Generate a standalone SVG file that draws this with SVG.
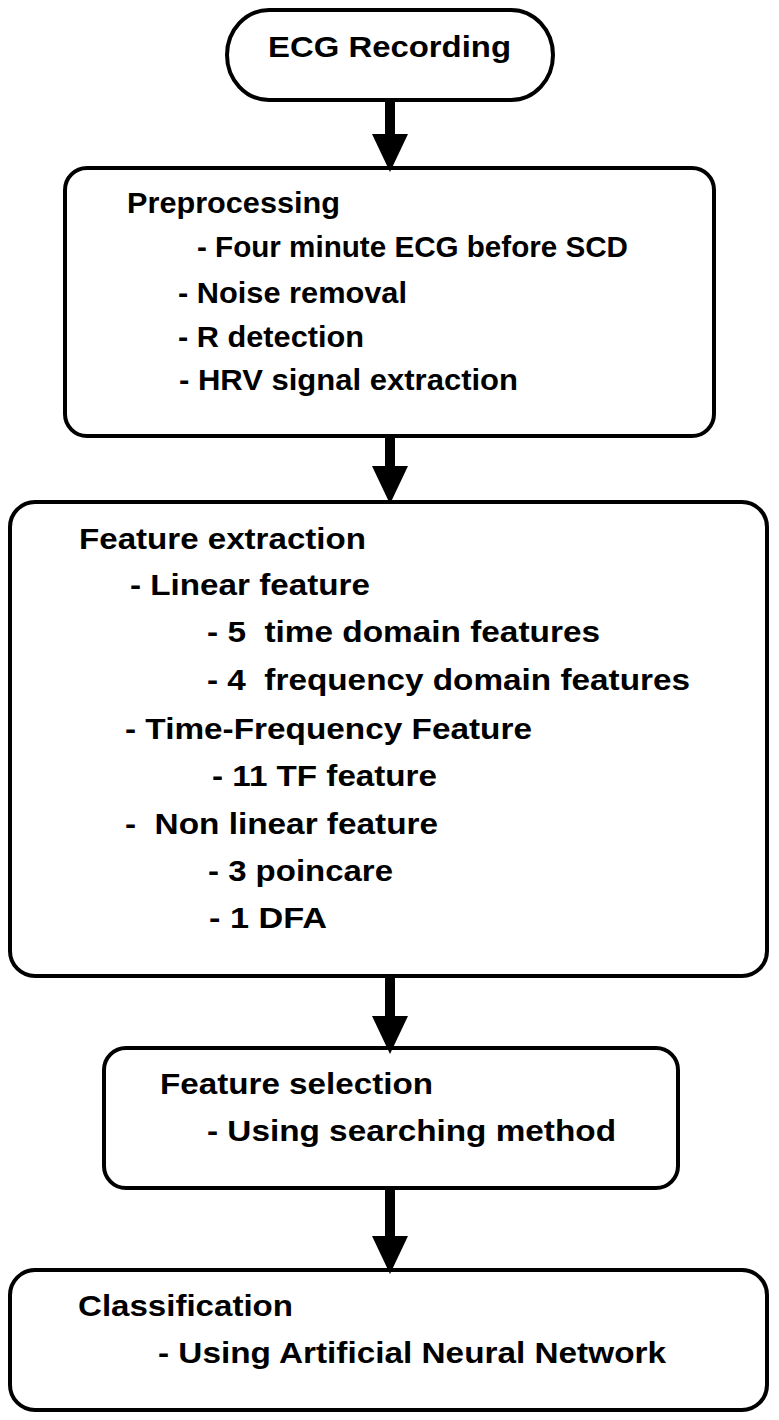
<svg xmlns="http://www.w3.org/2000/svg" width="779" height="1420" viewBox="0 0 779 1420">
<style>
.box{fill:#fff;stroke:#000;stroke-width:4}
.t{font-family:"Liberation Sans",Arial,sans-serif;font-weight:bold;font-size:30px;fill:#000;white-space:pre}
.c{stroke:#000;stroke-width:10;fill:none}
</style>
<defs>
<marker id="ah" markerUnits="userSpaceOnUse" markerWidth="38" markerHeight="36" refX="0" refY="18" orient="auto" viewBox="0 0 38 36">
<path d="M0,0 L38,18 L0,36 Z" fill="#000"/>
</marker>
</defs>
<rect width="779" height="1420" fill="#fff"/>
<g id="n1">
<rect class="box" x="227" y="10" width="326" height="90" rx="42" ry="45"/>
<text class="t" x="268" y="57" textLength="243" lengthAdjust="spacingAndGlyphs">ECG Recording</text>
</g>
<g id="n2">
<rect class="box" x="65" y="168" width="649" height="268" rx="22"/>
<text class="t" x="127" y="213" textLength="213" lengthAdjust="spacingAndGlyphs">Preprocessing</text>
<text class="t" x="197" y="257" textLength="431" lengthAdjust="spacingAndGlyphs">- Four minute ECG before SCD</text>
<text class="t" x="178" y="303" textLength="229" lengthAdjust="spacingAndGlyphs">- Noise removal</text>
<text class="t" x="178" y="347" textLength="186" lengthAdjust="spacingAndGlyphs">- R detection</text>
<text class="t" x="179" y="390" textLength="339" lengthAdjust="spacingAndGlyphs">- HRV signal extraction</text>
</g>
<g id="n3">
<rect class="box" x="10" y="502" width="757" height="474" rx="25"/>
<text class="t" x="79" y="549" textLength="287" lengthAdjust="spacingAndGlyphs">Feature extraction</text>
<text class="t" x="130" y="595" textLength="240" lengthAdjust="spacingAndGlyphs">- Linear feature</text>
<text class="t" x="207" y="642" textLength="393" lengthAdjust="spacingAndGlyphs">- 5  time domain features</text>
<text class="t" x="207" y="690" textLength="483" lengthAdjust="spacingAndGlyphs">- 4  frequency domain features</text>
<text class="t" x="125" y="739" textLength="407" lengthAdjust="spacingAndGlyphs">- Time-Frequency Feature</text>
<text class="t" x="212" y="786" textLength="225" lengthAdjust="spacingAndGlyphs">- 11 TF feature</text>
<text class="t" x="125" y="834" textLength="313" lengthAdjust="spacingAndGlyphs">-  Non linear feature</text>
<text class="t" x="208" y="881" textLength="185" lengthAdjust="spacingAndGlyphs">- 3 poincare</text>
<text class="t" x="209" y="928" textLength="118" lengthAdjust="spacingAndGlyphs">- 1 DFA</text>
</g>
<g id="n4">
<rect class="box" x="104" y="1048" width="574" height="140" rx="22"/>
<text class="t" x="160" y="1094" textLength="273" lengthAdjust="spacingAndGlyphs">Feature selection</text>
<text class="t" x="207" y="1141" textLength="409" lengthAdjust="spacingAndGlyphs">- Using searching method</text>
</g>
<g id="n5">
<rect class="box" x="10" y="1270" width="757" height="140" rx="25"/>
<text class="t" x="78" y="1316" textLength="215" lengthAdjust="spacingAndGlyphs">Classification</text>
<text class="t" x="158" y="1363" textLength="508" lengthAdjust="spacingAndGlyphs">- Using Artificial Neural Network</text>
</g>
<g id="connectors">
<line class="c" x1="390" y1="102" x2="390" y2="134" marker-end="url(#ah)"/>
<line class="c" x1="390" y1="438" x2="390" y2="466" marker-end="url(#ah)"/>
<line class="c" x1="390" y1="978" x2="390" y2="1016" marker-end="url(#ah)"/>
<line class="c" x1="390" y1="1190" x2="390" y2="1236" marker-end="url(#ah)"/>
</g>
</svg>
